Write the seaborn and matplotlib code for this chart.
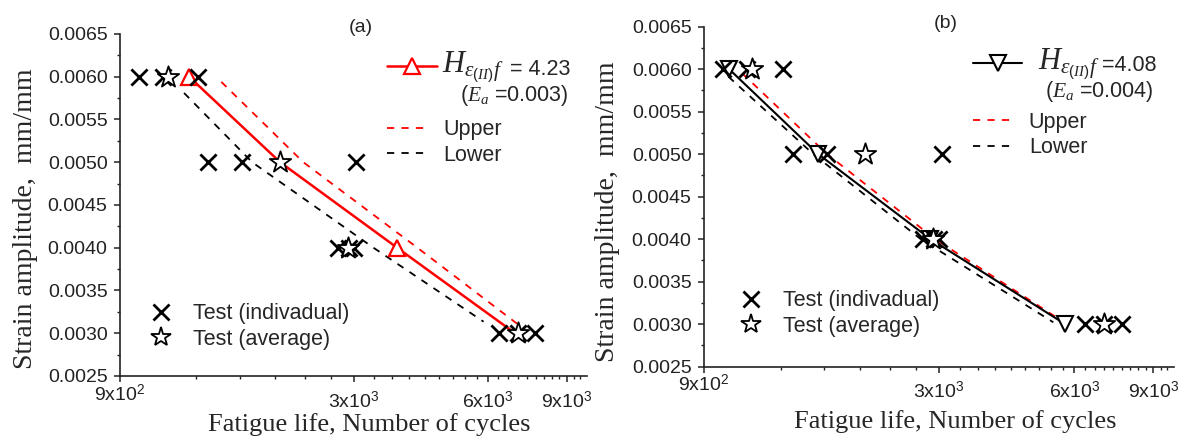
import matplotlib
matplotlib.use("Agg")
import matplotlib.pyplot as plt
import seaborn as sns
from matplotlib.lines import Line2D
from matplotlib.ticker import FixedLocator, NullFormatter, FixedFormatter

# ---------------- data ----------------
ind_strain = [0.006, 0.006, 0.006, 0.005, 0.005, 0.005, 0.004, 0.004, 0.004, 0.003, 0.003, 0.003]
ind_life = [993, 1123, 1347, 1417, 1690, 3045, 2770, 2930, 3000, 6340, 6990, 7660]
avg_strain = [0.006, 0.005, 0.004, 0.003]
avg_life = [1153, 2055, 2908, 6990]

pred_strain = [0.006, 0.005, 0.004, 0.003]
pred_life_a = [1285, 2055, 3756, 6900]
upper_life_a = [1517, 2316, 4170, 7100]
upper_strain_a = [0.00594, 0.005, 0.004, 0.00308]
lower_life_a = [1252, 1779, 3325, 5866]
lower_strain_a = [0.00581, 0.005, 0.004, 0.003135]

pred_life_b = [1023, 1615, 2870, 5720]
upper_life_b = [1094, 1690, 2940, 5930]
upper_strain_b = [0.00595, 0.005, 0.004, 0.00296]
lower_life_b = [1020, 1575, 2730, 5390]
lower_strain_b = [0.00591, 0.005, 0.004, 0.00302]

x_major = [900, 3000, 6000, 9000]
x_major_labels = [r"9x10$^{2}$", r"3x10$^{3}$", r"6x10$^{3}$", r"9x10$^{3}$"]
x_minor = [k * 1000 / 3 for k in range(4, 30) if k % 9 != 0]
y_ticks = [0.0025, 0.0030, 0.0035, 0.0040, 0.0045, 0.0050, 0.0055, 0.0060, 0.0065]
y_labels = ["%.4f" % v for v in y_ticks]
y_minor = [0.00275, 0.00325, 0.00375, 0.00425, 0.00475, 0.00525, 0.00575, 0.00625]

# ---------------- style ----------------
sns.set_style("ticks")
plt.rcParams["font.family"] = ["Liberation Sans", "DejaVu Sans"]
plt.rcParams["mathtext.fontset"] = "custom"
plt.rcParams["mathtext.rm"] = "Liberation Sans"
plt.rcParams["mathtext.it"] = "Liberation Serif:italic"
plt.rcParams["mathtext.bf"] = "Liberation Sans:bold"

RED = "#ff0000"
SERIF = ["Liberation Serif", "DejaVu Serif"]
FS_TICK = 14
FS_LEG = 15.5

fig = plt.figure(figsize=(11.85, 4.37), dpi=100)
ax1 = fig.add_axes([0.1013, 0.1396, 0.3941, 0.7826])
ax2 = fig.add_axes([0.5941, 0.1613, 0.3966, 0.7780])


def setup_axes(ax, ylab_xy, xlab_xy):
    ax.set_xscale("log")
    ax.set_xlim(900, 10000)
    ax.set_ylim(0.0025, 0.0065)
    ax.xaxis.set_major_locator(FixedLocator(x_major))
    ax.xaxis.set_major_formatter(FixedFormatter(x_major_labels))
    ax.xaxis.set_minor_locator(FixedLocator(x_minor))
    ax.xaxis.set_minor_formatter(NullFormatter())
    ax.yaxis.set_major_locator(FixedLocator(y_ticks))
    ax.yaxis.set_major_formatter(FixedFormatter(y_labels))
    ax.yaxis.set_minor_locator(FixedLocator(y_minor))
    for s in ["top", "right"]:
        ax.spines[s].set_visible(False)
    for s in ["left", "bottom"]:
        ax.spines[s].set_linewidth(1.2)
        ax.spines[s].set_color("#222222")
    ax.tick_params(axis="both", which="major", direction="out", length=4.5,
                   width=1.1, labelsize=FS_TICK, colors="#222222")
    ax.tick_params(axis="both", which="minor", direction="out", length=2.5,
                   width=1.0, colors="#222222")
    ax.tick_params(axis="y", which="major", pad=4.5)
    ax.tick_params(axis="x", which="major", pad=6)
    ticks = ax.xaxis.get_major_ticks()
    ticks[0].set_pad(1)
    ax.set_xlabel("Fatigue life, Number of cycles", fontsize=19, family=SERIF)
    ax.set_ylabel("Strain amplitude,  mm/mm", fontsize=20, family=SERIF)
    ax.xaxis.set_label_coords(*xlab_xy)
    ax.xaxis.label.set_va("center")
    ax.yaxis.set_label_coords(*ylab_xy)
    ax.yaxis.label.set_va("center")


def draw_tests(ax):
    sns.scatterplot(x=ind_life, y=ind_strain, ax=ax, marker="x", s=135,
                    color="black", linewidth=2.0, zorder=3)
    sns.scatterplot(x=avg_life, y=avg_strain, ax=ax, marker="*", s=260,
                    color="white", edgecolor="black", linewidth=1.3, zorder=4)


def draw_band(ax, up_l, up_s, lo_l, lo_s):
    sns.lineplot(x=up_l, y=up_s, ax=ax, sort=False, estimator=None, color=RED,
                 linewidth=1.3, linestyle=(0, (4, 4)), zorder=2)
    sns.lineplot(x=lo_l, y=lo_s, ax=ax, sort=False, estimator=None, color="black",
                 linewidth=1.3, linestyle=(0, (4, 4)), zorder=2)


def legends(ax, pred_handle, hx, h_base, eq_x, eq_base, eq_txt, e_x, e_base, e_txt,
            lg1_xy, lg2_xy, lg3_xy):
    l1 = ax.legend([pred_handle], [" "], loc="center left", bbox_to_anchor=lg1_xy,
                   frameon=False, fontsize=FS_LEG, handlelength=2.3, borderpad=0,
                   borderaxespad=0, handletextpad=0.2)
    ax.add_artist(l1)
    up_h = Line2D([], [], color=RED, lw=1.3, ls=(0, (4, 4)))
    lo_h = Line2D([], [], color="black", lw=1.3, ls=(0, (4, 4)))
    l2 = ax.legend([up_h, lo_h], ["Upper", "Lower"], loc="center left",
                   bbox_to_anchor=lg2_xy, frameon=False, fontsize=FS_LEG,
                   handlelength=2.0, handletextpad=0.6, labelspacing=0.22,
                   borderpad=0, borderaxespad=0)
    ax.add_artist(l2)
    x_h = Line2D([], [], color="black", marker="x", ls="none", markersize=11.5, mew=2)
    s_h = Line2D([], [], color="black", marker="*", ls="none", markersize=15,
                 mfc="white", mec="black", mew=1.3)
    ax.legend([x_h, s_h], ["Test (indivadual)", "Test (average)"], loc="center left",
              bbox_to_anchor=lg3_xy, frameon=False, fontsize=FS_LEG,
              handlelength=1.0, handletextpad=1.0, labelspacing=0.2,
              borderpad=0, borderaxespad=0)
    ax.text(hx, h_base, r"$H_{\varepsilon_{(II)}f}$", transform=ax.transAxes,
            fontsize=22, va="baseline", ha="left")
    ax.text(eq_x, eq_base, eq_txt, transform=ax.transAxes, fontsize=FS_LEG,
            va="baseline", ha="left")
    ax.text(e_x, e_base, e_txt, transform=ax.transAxes, fontsize=FS_LEG,
            va="baseline", ha="left")


# ---------------- panel (a) ----------------
setup_axes(ax1, (-0.203, 0.46), (0.533, -0.143))
draw_band(ax1, upper_life_a, upper_strain_a, lower_life_a, lower_strain_a)
sns.lineplot(x=pred_life_a, y=pred_strain, ax=ax1, sort=False, estimator=None,
             color=RED, linewidth=1.8, marker="^", markersize=11, markevery=[0, 2],
             markerfacecolor="white", markeredgecolor=RED, markeredgewidth=1.6, zorder=2.5)
draw_tests(ax1)
hA = Line2D([], [], color=RED, lw=1.8, marker="^", markersize=11,
            mfc="white", mec=RED, mew=1.6)
legends(ax1, hA, 0.690, 0.889, 0.835, 0.880, "= 4.23", 0.728, 0.804,
        r"($E_a$ =0.003)", (0.572, 0.901), (0.572, 0.683), (0.064, 0.145))
ax1.text(0.515, 1.02, "(a)", transform=ax1.transAxes, fontsize=14, ha="center",
         va="center")

# ---------------- panel (b) ----------------
setup_axes(ax2, (-0.206, 0.454), (0.534, -0.163))
draw_band(ax2, upper_life_b, upper_strain_b, lower_life_b, lower_strain_b)
sns.lineplot(x=pred_life_b, y=pred_strain, ax=ax2, sort=False, estimator=None,
             color="black", linewidth=1.5, marker="v", markersize=11,
             markerfacecolor="white", markeredgecolor="black", markeredgewidth=1.5,
             zorder=2.5)
draw_tests(ax2)
hB = Line2D([], [], color="black", lw=1.5, marker="v", markersize=11,
            mfc="white", mec="black", mew=1.5)
legends(ax2, hB, 0.711, 0.875, 0.847, 0.869, "=4.08", 0.726, 0.793,
        r"($E_a$ =0.004)", (0.572, 0.887), (0.572, 0.681), (0.077, 0.156))
ax2.text(0.515, 1.01, "(b)", transform=ax2.transAxes, fontsize=14, ha="center",
         va="center")

fig.savefig("out.png", dpi=100, facecolor="white")
